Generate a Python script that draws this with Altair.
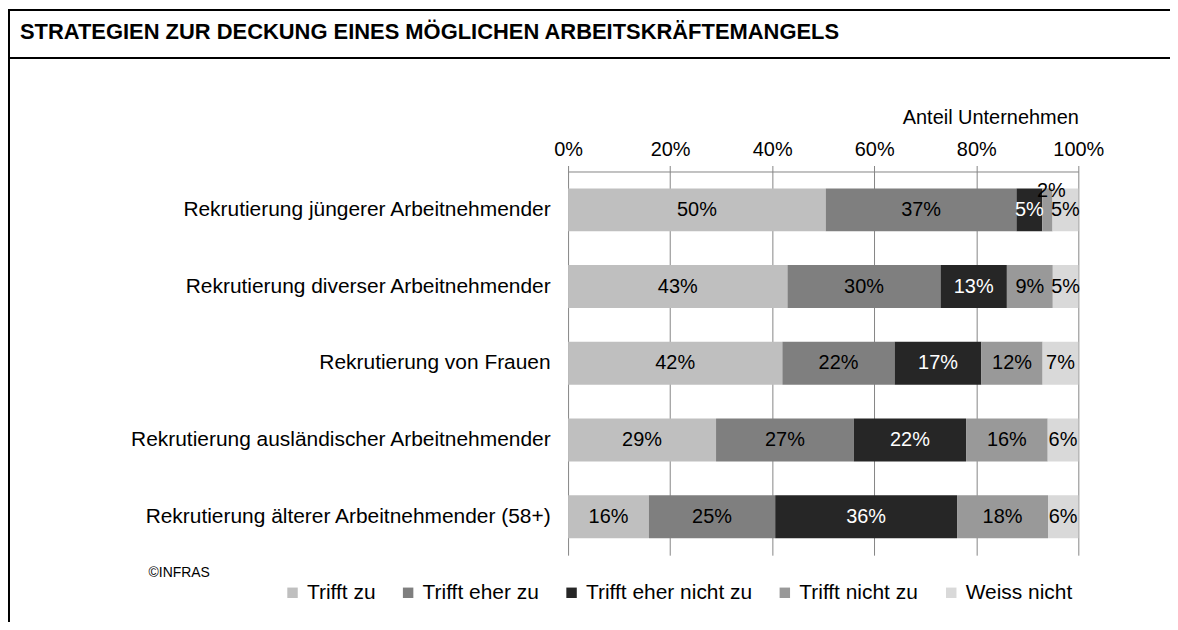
import altair as alt
import pandas as pd

title_text = "STRATEGIEN ZUR DECKUNG EINES MÖGLICHEN ARBEITSKRÄFTEMANGELS"
axis_title = "Anteil Unternehmen"
credit = "©INFRAS"

categories = [
    "Rekrutierung jüngerer Arbeitnehmender",
    "Rekrutierung diverser Arbeitnehmender ",
    "Rekrutierung von Frauen",
    "Rekrutierung ausländischer Arbeitnehmender",
    "Rekrutierung älterer Arbeitnehmender (58+)",
]
series = ["Trifft zu", "Trifft eher zu", "Trifft eher nicht zu", "Trifft nicht zu", "Weiss nicht"]
colors = ["#bfbfbf", "#7f7f7f", "#262626", "#999999", "#d9d9d9"]

trifft_zu = [50, 43, 42, 29, 16]
trifft_eher_zu = [37, 30, 22, 27, 25]
trifft_eher_nicht_zu = [5, 13, 17, 22, 36]
trifft_nicht_zu = [2, 9, 12, 16, 18]
weiss_nicht = [5, 5, 7, 6, 6]

tick_values = [0, 0.2, 0.4, 0.6, 0.8, 1.0]

rows = []
for s_idx, (s, vals) in enumerate(zip(series, [trifft_zu, trifft_eher_zu, trifft_eher_nicht_zu, trifft_nicht_zu, weiss_nicht])):
    for c_idx, (c, v) in enumerate(zip(categories, vals)):
        rows.append({"cat": c, "series": s, "ord": s_idx, "val": v, "label": f"{v}%",
                     "raised": (c_idx == 0 and s == "Trifft nicht zu")})
df = pd.DataFrame(rows)

FONT = "Liberation Sans"

base = alt.Chart(df).transform_stack(
    stack="val", groupby=["cat"], sort=[alt.SortField("ord", order="ascending")],
    as_=["x0", "x1"], offset="normalize"
).transform_calculate(mid="(datum.x0 + datum.x1) / 2")

y_enc = alt.Y("cat:N", sort=categories,
              scale=alt.Scale(paddingInner=0.44, paddingOuter=0.22),
              axis=alt.Axis(title=None, labelFontSize=21, labelColor="#000", labelPadding=18,
                            ticks=False, domain=False, labelLimit=600, labelFont=FONT))

bars = base.mark_bar().encode(
    x=alt.X("x0:Q", scale=alt.Scale(domain=[0, 1], nice=False),
            axis=alt.Axis(orient="top", values=tick_values, format=".0%", title=axis_title,
                          titleAnchor="end", titleFontSize=20, titleFontWeight="normal",
                          titleColor="#000", titlePadding=12, titleFont=FONT,
                          labelFontSize=20, labelColor="#000", labelPadding=6, labelFont=FONT,
                          tickSize=6, tickColor="#868686", domainColor="#868686",
                          gridColor="#868686", grid=True, labelFlush=False)),
    x2="x1:Q",
    y=y_enc,
    color=alt.Color("series:N", scale=alt.Scale(domain=series, range=colors),
                    legend=alt.Legend(title=None, orient="none", legendX=-287, legendY=412,
                                      direction="horizontal", symbolType="square",
                                      symbolSize=110, symbolStrokeWidth=0, labelFontSize=21,
                                      labelFont=FONT, labelColor="#000", labelOffset=4,
                                      labelLimit=400, columnPadding=22, columns=5)),
)

text_color = alt.condition(alt.datum.series == "Trifft eher nicht zu", alt.value("white"), alt.value("black"))

texts = base.transform_filter("!datum.raised").mark_text(fontSize=20, font=FONT).encode(
    x="mid:Q", y=alt.Y("cat:N", sort=categories), text="label:N", color=text_color)
texts_raised = base.transform_filter("datum.raised").mark_text(fontSize=20, font=FONT, dy=-19, dx=4).encode(
    x="mid:Q", y=alt.Y("cat:N", sort=categories), text="label:N", color=text_color)

deco = pd.DataFrame({"t": [title_text]})
title_mark = alt.Chart(deco).mark_text(fontSize=22, fontWeight="bold", font=FONT, align="left",
                                       baseline="middle", color="#000").encode(
    text="t:N", x=alt.value(-550), y=alt.value(-140))
credit_mark = alt.Chart(pd.DataFrame({"t": [credit]})).mark_text(
    fontSize=14, font=FONT, align="left", baseline="middle", color="#000").encode(
    text="t:N", x=alt.value(-421), y=alt.value(403))

frame_left = alt.Chart(deco).mark_rule(color="#000", strokeWidth=2).encode(
    x=alt.value(-561), y=alt.value(-162), y2=alt.value(460))
frame_top = alt.Chart(deco).mark_rule(color="#000", strokeWidth=2).encode(
    x=alt.value(-562), x2=alt.value(620), y=alt.value(-162))
frame_title = alt.Chart(deco).mark_rule(color="#000", strokeWidth=2).encode(
    x=alt.value(-562), x2=alt.value(620), y=alt.value(-114))

chart = alt.layer(frame_left, frame_top, frame_title, title_mark, bars, texts, texts_raised, credit_mark).properties(
    width=512, height=385,
    autosize=alt.AutoSizeParams(type="none"),
    padding={"left": 562, "top": 163, "right": 92, "bottom": 66},
    background="white",
).configure(font=FONT).configure_view(stroke=None)

chart.save("out.html", embed_options={"renderer": "svg", "actions": False})
